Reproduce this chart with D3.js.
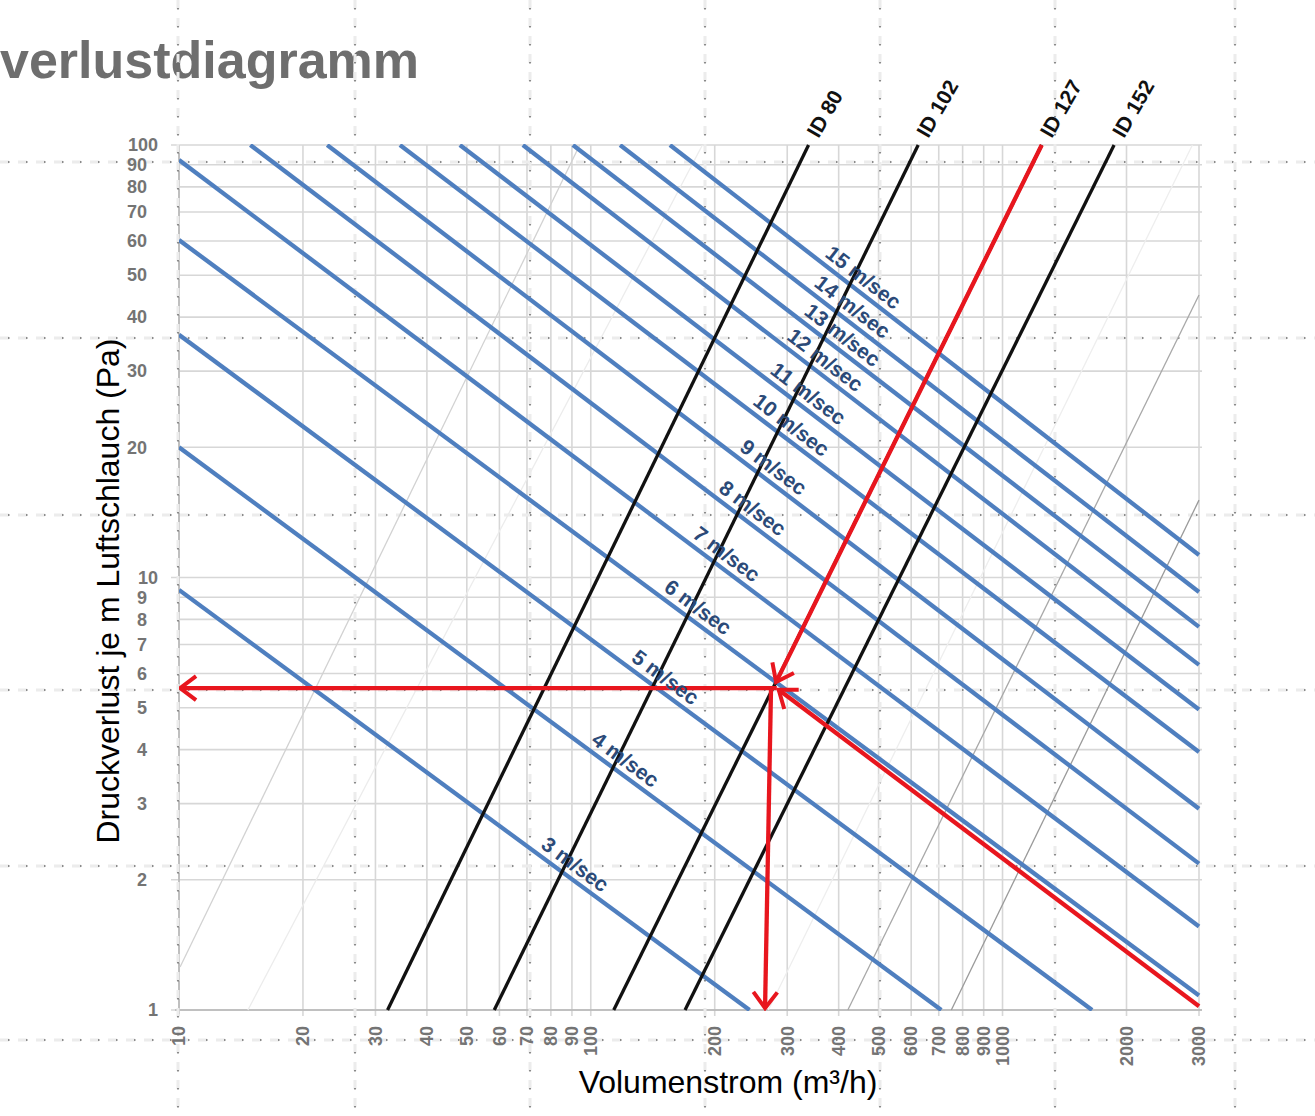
<!DOCTYPE html>
<html><head><meta charset="utf-8">
<script src="https://cdn.jsdelivr.net/npm/d3@7"></script>
<style>body{margin:0;background:#fff;overflow:hidden}</style>
</head><body>
<svg id="chart" width="1315" height="1116"></svg>
<script>
// ---------------- data ----------------
const titleText = "verlustdiagramm";
const xTitle = "Volumenstrom (m³/h)";
const yTitle = "Druckverlust je m Luftschlauch  (Pa)";
const xTicks = [10,20,30,40,50,60,70,80,90,100,200,300,400,500,600,700,800,900,1000,2000,3000];
const yTicks = [1,2,3,4,5,6,7,8,9,10,20,30,40,50,60,70,80,90,100];

// velocity lines (m/sec): endpoints [Q, P]
const velocities = [3,4,5,6,7,8,9,10,11,12,13,14,15];
const velStart = [[10,9.36],[10,20.0],[10,36.4],[10,60.3],[10,92.3],[14.9,100],[22.9,100],[34.4,100],[48.1,100],[68.4,100],[90.5,100],[117.8,100],[155.7,100]];
const velEnd   = [[243,1],[710,1],[1650,1],[3000,1.08],[3000,1.56],[3000,2.18],[3000,2.92],[3000,3.95],[3000,4.95],[3000,6.28],[3000,7.69],[3000,9.26],[3000,11.27]];
const velLabelQ = [87.5,116,145,174,204,236,265,293,322,354,390,412,438];

// hose inner diameters (black lines)
const diameters = ["ID 80","ID 102","ID 127","ID 152"];
const diaStart = [[32.1,1],[58.3,1],[113.7,1],[169.4,1]];
const diaEnd   = [[338,100],[624,100],[1245,100],[1866,100]];

// faint thin lines (other diameters)
const faintStart = [[10.06,1.257],[14.7,1],[270,1],[421,1],[751,1]];
const faintEnd   = [[94,100],[186.7,100],[2891,100],[3000,45],[3000,15.1]];
const faintShade = ["#d2d2d2","#ececec","#eeeeee","#a8a8a8","#9a9a9a"];

// red reading example (arrows): [fromQ, fromP, toQ, toP]
const redArrows = [
  [1245,100, 281.8,5.73],   // along ID 127 down to operating point
  [3000,1.02, 286,5.50],    // diagonal to operating point
  [283,5.55, 10.06,5.55],   // horizontal to pressure axis
  [274,5.55, 265,1.01]      // vertical down to flow axis
];

// ---------------- layout ----------------
const svg = d3.select("#chart");
const X0 = 179, X1 = 1199, Y0 = 1010, Y1 = 145;
const x = d3.scaleLog().domain([10,3000]).range([X0,X1]);
const y = d3.scaleLog().domain([1,100]).range([Y0,Y1]);
const FONT = "Liberation Sans, Arial, sans-serif";

const defs = svg.append("defs");
defs.append("clipPath").attr("id","plot")
  .append("rect").attr("x",X0).attr("y",Y1-1).attr("width",X1-X0+2).attr("height",Y0-Y1+2);
defs.append("marker").attr("id","arrowRed")
  .attr("markerUnits","userSpaceOnUse").attr("viewBox","-22 -15 26 30")
  .attr("markerWidth",26).attr("markerHeight",30).attr("refX",0).attr("refY",0)
  .attr("orient","auto")
  .append("path").attr("d","M-16,-12 L0,0 L-16,12")
  .attr("fill","none").attr("stroke","#e8161e").attr("stroke-width",4).attr("stroke-linejoin","miter");

// title
svg.append("text").attr("x",0).attr("y",78).text(titleText)
  .attr("font-family",FONT).attr("font-weight","bold")
  .attr("font-size",52).attr("fill","#6e6e6e");

// gridlines
const grid = svg.append("g");
grid.selectAll(".hg").data(yTicks).join("line")
  .attr("x1",d => (d===1||d===2||d===10||d===100)?171:X0).attr("x2",X1+3)
  .attr("y1",d=>y(d)).attr("y2",d=>y(d))
  .attr("stroke","#d7d7d7").attr("stroke-width",1.6);
grid.selectAll(".vg").data(xTicks).join("line")
  .attr("x1",d=>x(d)).attr("x2",d=>x(d)).attr("y1",Y1).attr("y2",Y0+6)
  .attr("stroke","#d7d7d7").attr("stroke-width",1.6);
grid.append("line").attr("x1",X0).attr("x2",X0).attr("y1",Y1).attr("y2",Y0+4).attr("stroke","#b5b5b5").attr("stroke-width",1.5);
grid.append("line").attr("x1",X0-4).attr("x2",X1+3).attr("y1",Y0).attr("y2",Y0).attr("stroke","#b5b5b5").attr("stroke-width",1.5);

// slide guides (dotted)
const guides = svg.append("g");
[162,338,515,690,866,1040].forEach(gy => {
  guides.append("line").attr("x1",0).attr("x2",1315).attr("y1",gy).attr("y2",gy)
    .attr("stroke","#ececec").attr("stroke-width",3).attr("stroke-dasharray","9,9");
  guides.append("line").attr("x1",8).attr("x2",1315).attr("y1",gy).attr("y2",gy)
    .attr("stroke","#6a6a6a").attr("stroke-width",1.5).attr("stroke-dasharray","1.5,16.5");
});
[178,355,530,705,880,1055,1235].forEach(gx => {
  guides.append("line").attr("x1",gx).attr("x2",gx).attr("y1",0).attr("y2",1116)
    .attr("stroke","#ececec").attr("stroke-width",3).attr("stroke-dasharray","9,9");
  guides.append("line").attr("x1",gx).attr("x2",gx).attr("y1",8).attr("y2",1116)
    .attr("stroke","#6a6a6a").attr("stroke-width",1.5).attr("stroke-dasharray","1.5,16.5");
});

const plot = svg.append("g").attr("clip-path","url(#plot)");
const seg = (a,b) => d3.line().x(d=>x(d[0])).y(d=>y(d[1]))([a,b]);

plot.selectAll(".faint").data(faintStart).join("path")
  .attr("d",(d,i)=>seg(d,faintEnd[i])).attr("fill","none")
  .attr("stroke",(d,i)=>faintShade[i]).attr("stroke-width",1.3);

plot.selectAll(".vel").data(velocities).join("path")
  .attr("d",(d,i)=>seg(velStart[i],velEnd[i])).attr("fill","none")
  .attr("stroke","#4f7fbf").attr("stroke-width",4.3);

plot.selectAll(".dia").data(diameters).join("path")
  .attr("d",(d,i)=>seg(diaStart[i],diaEnd[i])).attr("fill","none")
  .attr("stroke","#111").attr("stroke-width",3.3);

plot.selectAll(".red").data(redArrows).join("path")
  .attr("d",d=>seg([d[0],d[1]],[d[2],d[3]])).attr("fill","none")
  .attr("stroke","#e8161e").attr("stroke-width",4.3).attr("marker-end","url(#arrowRed)");

// velocity labels
function pointOn(i,q){
  const a=velStart[i], b=velEnd[i];
  const t=(Math.log(q)-Math.log(a[0]))/(Math.log(b[0])-Math.log(a[0]));
  const lp=Math.log(a[1])+t*(Math.log(b[1])-Math.log(a[1]));
  return [x(q), y(Math.exp(lp))];
}
const lab = svg.append("g");
velocities.forEach((v,i)=>{
  const a=[x(velStart[i][0]),y(velStart[i][1])], b=[x(velEnd[i][0]),y(velEnd[i][1])];
  const ang=Math.atan2(b[1]-a[1],b[0]-a[0]);
  const p=pointOn(i,velLabelQ[i]);
  const d=14;
  const cx=p[0]+Math.sin(ang)*d, cy=p[1]-Math.cos(ang)*d;
  lab.append("text").attr("transform",`translate(${cx},${cy}) rotate(${ang*180/Math.PI})`)
    .attr("text-anchor","middle").attr("dy","0.35em")
    .attr("font-family",FONT).attr("font-weight","bold")
    .attr("font-size",21).attr("fill","#2b4a78").text(v+" m/sec");
});

// diameter labels
diameters.forEach((t,i)=>{
  const tx=x(diaEnd[i][0])+10, ty=y(diaEnd[i][1])-6;
  lab.append("text").attr("transform",`translate(${tx},${ty}) rotate(-60)`)
    .attr("font-family",FONT).attr("font-weight","bold")
    .attr("font-size",21).attr("fill","#111").text(t);
});

// tick labels
const tk = svg.append("g").attr("font-family",FONT)
  .attr("font-weight","bold").attr("font-size",18).attr("fill","#747474");
tk.selectAll(".yl").data(yTicks).join("text")
  .attr("x",d=>[1,10,100].includes(d)?158:147).attr("y",d=>y(d)).attr("dy","0.35em")
  .attr("text-anchor","end").text(d=>d);
tk.selectAll(".xl").data(xTicks).join("text")
  .attr("transform",d=>`translate(${x(d)},1026) rotate(-90)`).attr("dy","0.35em")
  .attr("text-anchor","end").text(d=>d);

// axis titles
svg.append("text").attr("x",728).attr("y",1093).attr("text-anchor","middle")
  .attr("font-family",FONT).attr("font-size",32).attr("fill","#000").text(xTitle);
svg.append("text").attr("transform","translate(119,591) rotate(-90)").attr("text-anchor","middle")
  .attr("font-family",FONT).attr("font-size",32).attr("fill","#000").text(yTitle);
</script>
</body></html>
